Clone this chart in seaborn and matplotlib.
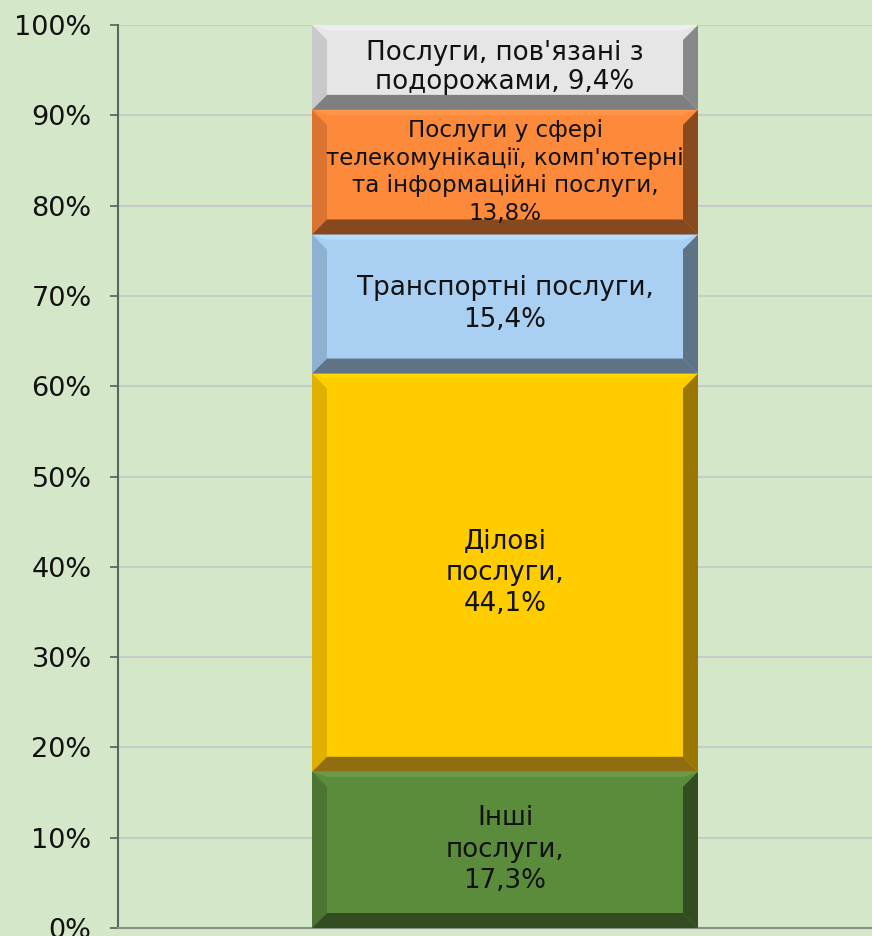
import matplotlib
matplotlib.use("Agg")
import matplotlib.pyplot as plt
import seaborn as sns
import pandas as pd
from matplotlib.patches import Polygon
from matplotlib.ticker import FuncFormatter

# ---- data ----
categories = ["Інші\nпослуги,", "Ділові\nпослуги,", "Транспортні послуги,",
              "Послуги у сфері\nтелекомунікації, комп'ютерні\nта інформаційні послуги,",
              "Послуги, пов'язані з\nподорожами,"]
values = [17.3, 44.1, 15.4, 13.8, 9.4]
value_labels = ["17,3%", "44,1%", "15,4%", "13,8%", "9,4%"]
y_ticks = [0, 10, 20, 30, 40, 50, 60, 70, 80, 90, 100]

# ---- style ----
face_colors = ["#5b8c3b", "#ffcc00", "#a9cff2", "#fd8a3a", "#e6e6e6"]
top_colors = ["#6a9a48", "#ffd800", "#b6dcff", "#ff9548", "#eeeeee"]
left_colors = ["#4b7530", "#e0b000", "#8fb1d1", "#db7430", "#c9c9c9"]
right_colors = ["#334d22", "#9a7700", "#5f7386", "#8b4a1e", "#888888"]
bottom_colors = ["#344c22", "#8f6d10", "#5f7386", "#86481f", "#7f7f7f"]
label_sizes = [18.8, 18.8, 18.8, 16.6, 18.8]
label_sep = ["\n", "\n", "\n", "\n", " "]
label_spacing = [1.28, 1.28, 1.28, 1.25, 1.18]

bg = "#d4e8c9"
sns.set_theme(style="white")
plt.rcParams['font.family'] = ['DejaVu Sans']

fig = plt.figure(figsize=(8.72, 9.36), dpi=100, facecolor=bg)
ax = fig.add_axes([118 / 872, 8 / 936, 1 - 118 / 872, (928 - 25) / 936])
ax.set_facecolor(bg)

bottom = 0.0
bar_w = 0.6
for i, v in enumerate(values):
    df = pd.DataFrame({"x": [""], "y": [v]})
    sns.barplot(data=df, x="x", y="y", bottom=bottom, color=face_colors[i],
                width=bar_w, linewidth=0, saturation=1, ax=ax, zorder=3)
    bottom += v

# axis limits so the bar sits where it does in the reference
frac_l = (312 - 118) / 754
frac_w = (698 - 312) / 754
span = bar_w / frac_w
xl = -bar_w / 2 - frac_l * span
ax.set_xlim(xl, xl + span)
ax.set_ylim(0, 100)

# bevel edges derived from each bar patch
dx = 15 / 754 * span
dy = 15 / 903 * 100
patches = [p for p in ax.patches]
for i, p in enumerate(patches):
    x0, y0 = p.get_x(), p.get_y()
    x1, y1 = x0 + p.get_width(), y0 + p.get_height()
    polys = [
        ([(x0, y1), (x1, y1), (x1 - dx, y1 - dy * 0.35), (x0 + dx, y1 - dy * 0.35)], top_colors[i]),
        ([(x0, y0), (x0, y1), (x0 + dx, y1 - dy), (x0 + dx, y0 + dy)], left_colors[i]),
        ([(x1, y0), (x1, y1), (x1 - dx, y1 - dy), (x1 - dx, y0 + dy)], right_colors[i]),
        ([(x0, y0), (x1, y0), (x1 - dx, y0 + dy), (x0 + dx, y0 + dy)], bottom_colors[i]),
    ]
    for pts, c in polys:
        ax.add_patch(Polygon(pts, closed=True, facecolor=c, edgecolor="none", zorder=4))

# labels
cum = 0.0
for i, v in enumerate(values):
    yc = cum + v / 2
    ax.text(0, yc, categories[i] + label_sep[i] + value_labels[i],
            ha="center", va="center", fontsize=label_sizes[i], color="#111111",
            zorder=5, linespacing=label_spacing[i])
    cum += v

ax.set_yticks(y_ticks)
ax.yaxis.set_major_formatter(FuncFormatter(lambda y, _: f"{int(y)}%"))
ax.tick_params(axis="y", labelsize=19.5, length=6, width=1.2, color="#555d55",
               pad=13, left=True, labelcolor="#111111")
ax.tick_params(axis="x", bottom=False, labelbottom=False)
ax.set_xlabel("")
ax.set_ylabel("")
ax.grid(axis="y", color="#c6cbcd", linewidth=1.4, zorder=0)
ax.set_axisbelow(True)
for s in ["top", "right"]:
    ax.spines[s].set_visible(False)
ax.spines["left"].set_color("#5d665d")
ax.spines["left"].set_linewidth(1.5)
ax.spines["bottom"].set_color("#8a8f8a")
ax.spines["bottom"].set_linewidth(1.5)

fig.savefig("out.png", dpi=100, facecolor=bg)
